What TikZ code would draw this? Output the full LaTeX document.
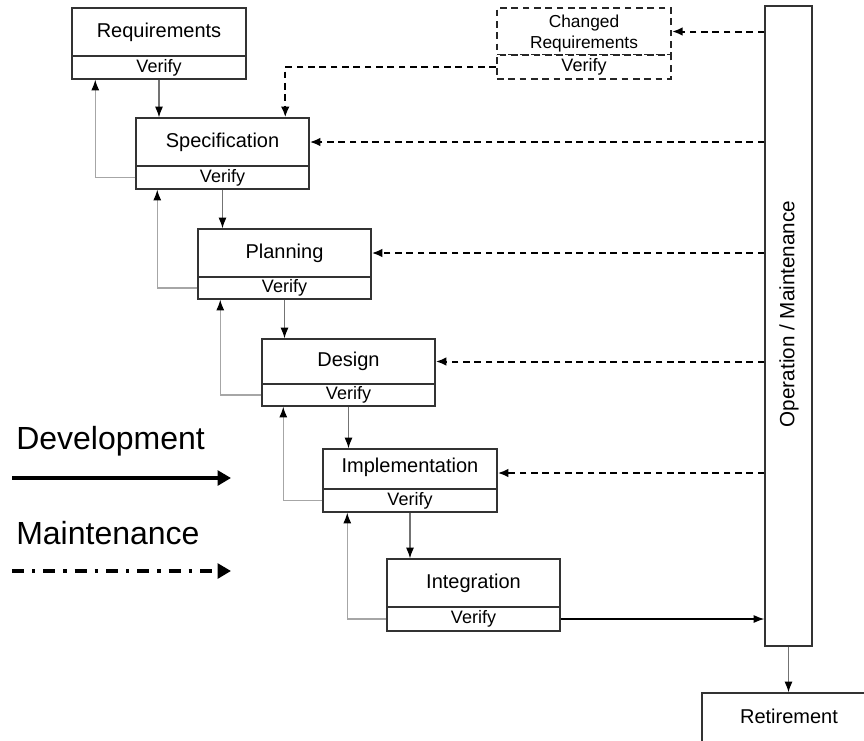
\documentclass[tikz,border=0pt]{standalone}
\usepackage{fontspec}
\setmainfont{Liberation Sans}
\usetikzlibrary{arrows.meta,calc,fit}
\begin{document}
\begin{tikzpicture}[x=0.75pt,y=-0.75pt,
  box/.style={draw=black!80, line width=1.1pt, inner sep=0pt, fill=white},
  dbox/.style={box, draw=black!85, dash pattern=on 5pt off 3.5pt, line width=1.5pt},
  ttl/.style={font=\fontsize{15}{17}\selectfont, inner sep=0pt},
  vtx/.style={font=\fontsize{13.5}{15}\selectfont, inner sep=0pt},
  tip/.style={-{Latex[length=8pt,width=6pt,color=black]}},
  down/.style={tip, draw=black!55, line width=0.8pt},
  fb/.style={tip, draw=black!35, line width=0.8pt},
  dev/.style={tip, draw=black, line width=0.8pt},
  maint/.style={-{Latex[length=8pt,width=6.5pt]}, draw=black, line width=1.5pt, dash pattern=on 5pt off 3.5pt},
  legtxt/.style={font=\fontsize{24}{28}\selectfont, anchor=west, inner sep=0pt},
  legarrow/.style={-{Triangle[length=10pt,width=11pt]}, line width=2.6pt}]
\useasboundingbox (0,0) rectangle (864,740);

% main boxes
\node[box, fit={(72,8)(246,56)}] (req) {};
\node[box, fit={(72,56)(246,79)}] (reqv) {};
\node[dbox, fit={(497,8)(671,55)}] (cr) {};
\node[dbox, fit={(497,55)(671,79)}] (crv) {};
\node[box, fit={(136,118)(309,166)}] (spec) {};
\node[box, fit={(136,166)(309,189)}] (specv) {};
\node[box, fit={(198,229)(371,277)}] (plan) {};
\node[box, fit={(198,277)(371,299)}] (planv) {};
\node[box, fit={(262,339)(435,384)}] (des) {};
\node[box, fit={(262,384)(435,406)}] (desv) {};
\node[box, fit={(323,449)(497,489)}] (impl) {};
\node[box, fit={(323,489)(497,512)}] (implv) {};
\node[box, fit={(387,559)(560,607)}] (integ) {};
\node[box, fit={(387,607)(560,631)}] (integv) {};
\node[box, fit={(765,6)(812,646)}] (op) {};
\node[box, fit={(702,693)(876,744)}] (ret) {};

% texts
\node[ttl] (reqT) at (req.center) {Requirements};
\node[vtx] (reqvT) at (reqv.center) {Verify};
\node[align=center, font=\fontsize{13}{16}\selectfont, inner sep=0pt] (crT) at ($(cr.center)+(0,2)$) {Changed\\Requirements};
\node[vtx] (crvT) at (crv.center) {Verify};
\node[ttl] (specT) at (spec.center) {Specification};
\node[vtx] (specvT) at (specv.center) {Verify};
\node[ttl] (planT) at (plan.center) {Planning};
\node[vtx] (planvT) at (planv.center) {Verify};
\node[ttl] (desT) at (des.center) {Design};
\node[vtx] (desvT) at (desv.center) {Verify};
\node[ttl] (implT) at ($(impl.center)+(0,-2)$) {Implementation};
\node[vtx] (implvT) at (implv.center) {Verify};
\node[ttl] (integT) at (integ.center) {Integration};
\node[vtx] (integvT) at (integv.center) {Verify};
\node[rotate=90, font=\fontsize{15.5}{17}\selectfont] (opT) at (789,314) {Operation / Maintenance};
\node[ttl] (retT) at (789,716) {Retirement};

% development flow (down arrows)
\draw[down] (reqv.south) -- (reqv.south |- spec.north);
\draw[down] (specv.south) -- (specv.south |- plan.north);
\draw[down] (planv.south) -- (planv.south |- des.north);
\draw[down] (desv.south) -- (desv.south |- impl.north);
\draw[down] (implv.south) -- (implv.south |- integ.north);

% feedback arrows
\draw[fb] (specv.west) -| ($(reqv.south west)+(24,0)$);
\draw[fb] (planv.west) -| ($(specv.south west)+(22,0)$);
\draw[fb] (desv.west) -| ($(planv.south west)+(23,0)$);
\draw[fb] (implv.west) -| ($(desv.south west)+(22,0)$);
\draw[fb] (integv.west) -| ($(implv.south west)+(25,0)$);

% to operation and retirement
\draw[dev] (integv.east) -- (op.west |- integv.east);
\draw[down] (op.south) -- (op.south |- ret.north);

% maintenance arrows
\draw[maint] (op.west |- cr.east) -- (cr.east);
\draw[maint] (op.west |- spec.east) -- (spec.east);
\draw[maint] (op.west |- plan.east) -- (plan.east);
\draw[maint] (op.west |- des.east) -- (des.east);
\draw[maint] ($(op.west |- impl.east)+(0,4)$) -- ($(impl.east)+(0,4)$);
\draw[maint] (crv.west) -| ($(spec.north west)+(150,0)$);

% legend
\node[legtxt] (devlbl) at (16,441) {Development};
\node[legtxt] (mntlbl) at (16,533) {Maintenance};
\coordinate (devA) at (12,478);
\coordinate (devB) at (231,478);
\coordinate (mntA) at (12,571);
\coordinate (mntB) at (231,571);
\draw[legarrow] (devA) -- (devB);
\draw[legarrow, dash pattern=on 9pt off 6pt on 2.5pt off 6pt] (mntA) -- (mntB);
\end{tikzpicture}
\end{document}
